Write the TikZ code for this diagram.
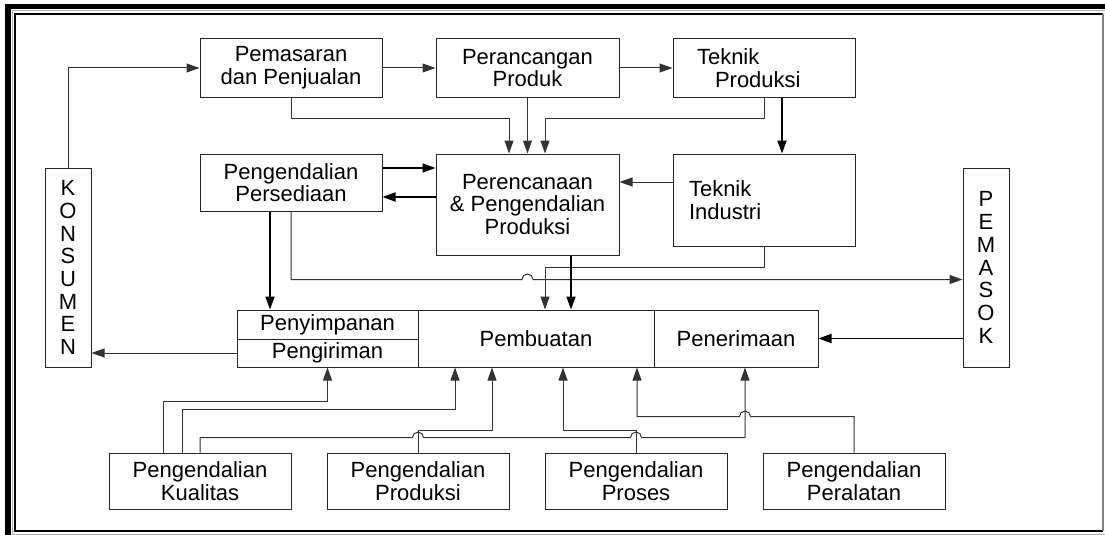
\documentclass[tikz,border=0pt]{standalone}
\usepackage{fontspec}
\setmainfont{Liberation Sans}
\usetikzlibrary{arrows.meta,calc}

\tikzset{
	kotak/.style={draw=black!85,line width=1pt,inner sep=2pt,align=center,font=\fontsize{22}{22.7}\selectfont},
	panah/.style={draw=black!80,line width=1pt,-{Triangle[length=13pt,width=9pt]}},
	panahtebal/.style={draw=black,line width=1.8pt,-{Triangle[length=13pt,width=9pt]}},
}

\begin{document}
\begin{tikzpicture}[x=1pt,y=1pt]
				  \useasboundingbox (0,0) rectangle (1105,-535);
				  %BINGKAI
				  \fill[black] (5,-4) rectangle (1105,-9);
				  \fill[black] (5,-4) rectangle (11,-535);
				  \draw[gray!60,line width=1pt] (12.5,-535) -- (12.5,-11) -- (1105,-11);
				  \draw[line width=2pt] (1103,-14.5) -- (15,-14.5) -- (15,-531) -- (1103,-531);
				  \draw[gray,line width=1.5pt] (1103,-14.5) -- (1103,-531);
				  \draw[gray!60,line width=1pt] (12.5,-534) -- (1105,-534);
				  %KONSUMEN et PEMASOK
				  \node[kotak,minimum width=46pt,minimum height=199pt] (kon) at (68,-267.5) {K\\O\\N\\S\\U\\M\\E\\N};
				  \node[kotak,minimum width=46pt,minimum height=199pt] (psk) at (986,-267.5) {P\\E\\M\\A\\S\\O\\K};
				  %BARIS ATAS
				  \node[kotak,minimum width=182pt,minimum height=58pt] (pms) at (291,-68) {Pemasaran\\dan Penjualan};
				  \node[kotak,minimum width=183pt,minimum height=58pt] (prc) at (527.5,-68) {Perancangan\\Produk};
				  \node[kotak,minimum width=182pt,minimum height=58pt,align=left,text width=134pt,inner xsep=24pt] (tpr) at (764,-68) {Teknik\\\hspace*{18pt}Produksi};
				  %BARIS TENGAH
				  \node[kotak,minimum width=182pt,minimum height=57pt] (psd) at (291,-182.5) {Pengendalian\\Persediaan};
				  \node[kotak,minimum width=183pt,minimum height=101pt] (ppc) at (527.5,-204.5) {Perencanaan\\\& Pengendalian\\Produksi};
				  \node[kotak,minimum width=182pt,minimum height=92pt,align=left,text width=150pt,inner xsep=16pt] (tin) at (764,-200) {Teknik\\Industri};
				  %PENYIMPANAN, PEMBUATAN, PENERIMAAN
				  \node[kotak,minimum width=181pt,minimum height=29pt] (pny) at (327.5,-324.5) {Penyimpanan};
				  \node[kotak,minimum width=181pt,minimum height=28pt] (pgr) at (327.5,-353) {Pengiriman};
				  \node[kotak,minimum width=236pt,minimum height=57pt] (pbt) at (536,-338.5) {Pembuatan};
				  \node[kotak,minimum width=164pt,minimum height=57pt] (pnr) at (736,-338.5) {Penerimaan};
				  %BARIS BAWAH
				  \node[kotak,minimum width=182pt,minimum height=56pt] (pkl) at (200,-481) {Pengendalian\\Kualitas};
				  \node[kotak,minimum width=182pt,minimum height=56pt] (ppr) at (418,-481) {Pengendalian\\Produksi};
				  \node[kotak,minimum width=182pt,minimum height=56pt] (pps) at (636,-481) {Pengendalian\\Proses};
				  \node[kotak,minimum width=182pt,minimum height=56pt] (ppl) at (854,-481) {Pengendalian\\Peralatan};
				  %PANAH ATAS
				  \draw[panah] (kon.north) |- (pms.west);
				  \draw[panah] (pms) -- (prc);
				  \draw[panah] (prc) -- (tpr);
				  \draw[panah] (pms.south) -- ++(0,-21) -| ([xshift=-18.5pt]ppc.north);
				  \draw[panah] (prc.south) -- (ppc.north);
				  \draw[panah] (tpr.south) -- ++(0,-21) -| ([xshift=17.5pt]ppc.north);
				  \draw[panahtebal] ([xshift=18pt]tpr.south) -- ([xshift=18pt]tin.north);
				  %PANAH TENGAH
				  \draw[panah] ([yshift=18pt]tin.west) coordinate (t1) -- (t1 -| ppc.east);
				  \draw[panahtebal] ([yshift=14.5pt]psd.east) coordinate (s1) -- (s1 -| ppc.west);
				  \draw[panahtebal] ([yshift=7.5pt]ppc.west) coordinate (s2) -- (s2 -| psd.east);
				  \draw[panahtebal] ([xshift=-21pt]psd.south) coordinate (p1) -- (p1 |- pny.north);
				  \draw[panah] (psd.south) -- ++(0,-68) coordinate (j1) -- ($(j1 -| ppc.north)+(-5.5,0)$) arc[start angle=180,end angle=0,radius=5.5pt] -- (j1 -| psk.west);
				  \draw[panah] (tin.south) -- ++(0,-21) -| ([xshift=9pt]pbt.north);
				  \draw[panahtebal] ([xshift=43.5pt]ppc.south) coordinate (p2) -- (p2 |- pbt.north);
				  \draw[panah] (pgr.west) -- (pgr.west -| kon.east);
				  \draw[panahtebal] (pnr.east -| psk.west) -- (pnr.east);
				  %PANAH BAWAH
				  \draw[panah] ([xshift=-37pt]pkl.north) -- ++(0,51) -| (pgr.south);
				  \draw[panah] ([xshift=-18pt]pkl.north) -- ++(0,43) -| ([xshift=-81pt]pbt.south);
				  \draw[panah] (pkl.north) -- ++(0,15) coordinate (k1) -- ($(k1 -| ppr.north)+(-5.5,0)$) arc[start angle=180,end angle=0,radius=5.5pt] -- ($(k1 -| pps.north)+(-5.5,0)$) arc[start angle=180,end angle=0,radius=5.5pt] -| ([xshift=9pt]pnr.south);
				  \draw[panah] (ppr.north) -- ++(0,22) -| ([xshift=-44pt]pbt.south);
				  \draw[panah] (pps.north) -- ++(0,22) -| ([xshift=27pt]pbt.south);
				  \draw[panah] (ppl.north) -- ++(0,36) coordinate (k2) -- ($(k2 -| pnr.south)+(14.5,0)$) arc[start angle=0,end angle=180,radius=5.5pt] -| ([xshift=101pt]pbt.south);
\end{tikzpicture}
\end{document}
